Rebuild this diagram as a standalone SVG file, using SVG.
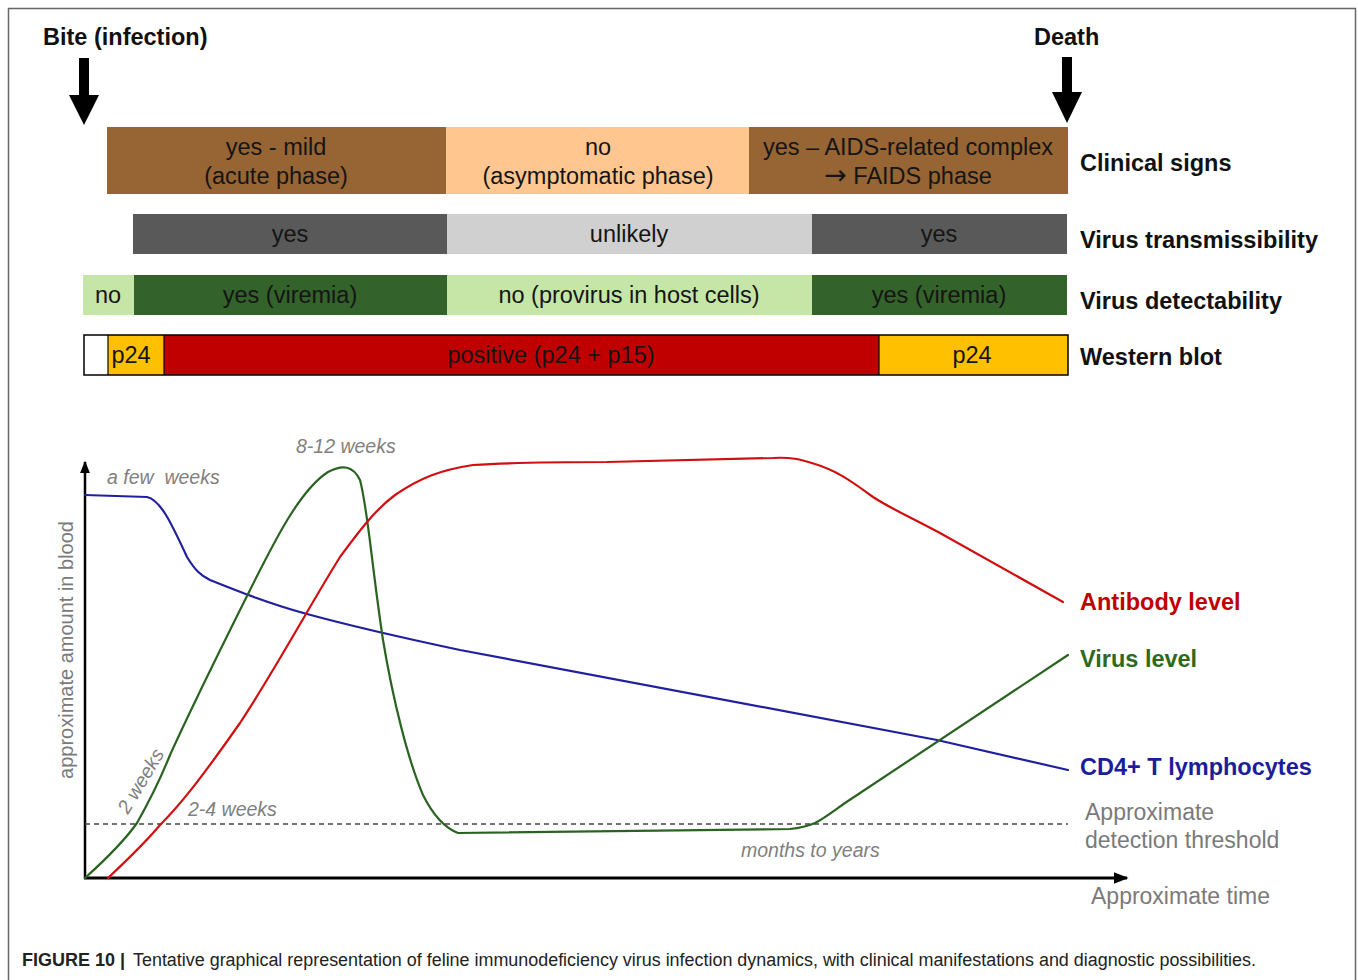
<svg xmlns="http://www.w3.org/2000/svg" width="1358" height="980" viewBox="0 0 1358 980">
<style>
.bt{font-family:"Liberation Sans",Arial,sans-serif;font-size:23.5px;fill:#151515;text-anchor:middle}
.lb{font-family:"Liberation Sans",Arial,sans-serif;font-size:23.5px;font-weight:bold;fill:#111}
.it{font-family:"Liberation Sans",Arial,sans-serif;font-size:19.5px;font-style:italic;fill:#808080}
.gr{font-family:"Liberation Sans",Arial,sans-serif;font-size:23px;fill:#7a7a7a}
.cv{fill:none;stroke-width:2.2;stroke-linejoin:round;stroke-linecap:round}
.ar{font-family:"DejaVu Sans",sans-serif;font-size:27px}
</style>
<defs>
<marker id="ah" viewBox="0 0 10 10" refX="9" refY="5" markerWidth="5" markerHeight="5" orient="auto" markerUnits="strokeWidth"><path d="M0,1 L10,5 L0,9 z" fill="#000"/></marker>
</defs>
<rect id="frame" x="8.5" y="8.5" width="1347" height="990" fill="#fff" stroke="#666" stroke-width="1.5"/>

<g id="bite">
<text class="lb" x="43" y="45">Bite (infection)</text>
<polygon points="79,58 89,58 89,95 99,95 84,125 69,95 79,95" fill="#000"/>
</g>
<g id="death">
<text class="lb" x="1034" y="45">Death</text>
<polygon points="1062,57 1072,57 1072,92 1082,92 1067,123 1052,92 1062,92" fill="#000"/>
</g>

<g id="clinical">
<rect x="107" y="127" width="339" height="67" fill="#976434"/>
<rect x="446" y="127" width="303" height="67" fill="#FFC78F"/>
<rect x="749" y="127" width="319" height="67" fill="#976434"/>
<text class="bt" x="276" y="155">yes - mild</text>
<text class="bt" x="276" y="184">(acute phase)</text>
<text class="bt" x="598" y="155">no</text>
<text class="bt" x="598" y="184">(asymptomatic phase)</text>
<text class="bt" x="908" y="155" textLength="290" lengthAdjust="spacingAndGlyphs">yes – AIDS-related complex</text>
<text class="bt" x="908" y="184"><tspan class="ar">→</tspan> FAIDS phase</text>
<text class="lb" x="1080" y="171">Clinical signs</text>
</g>

<g id="transmissibility">
<rect x="133" y="214" width="314" height="40" fill="#595959"/>
<rect x="447" y="214" width="365" height="40" fill="#D0D0D0"/>
<rect x="812" y="214" width="255" height="40" fill="#595959"/>
<text class="bt" x="290" y="242">yes</text>
<text class="bt" x="629" y="242">unlikely</text>
<text class="bt" x="939" y="242">yes</text>
<text class="lb" x="1080" y="248" textLength="238" lengthAdjust="spacingAndGlyphs">Virus transmissibility</text>
</g>

<g id="detectability">
<rect x="83" y="275" width="51" height="40" fill="#C5E6A6"/>
<rect x="134" y="275" width="313" height="40" fill="#33622A"/>
<rect x="447" y="275" width="365" height="40" fill="#C5E6A6"/>
<rect x="812" y="275" width="255" height="40" fill="#33622A"/>
<text class="bt" x="108" y="303">no</text>
<text class="bt" x="290" y="303">yes (viremia)</text>
<text class="bt" x="629" y="303">no (provirus in host cells)</text>
<text class="bt" x="939" y="303">yes (viremia)</text>
<text class="lb" x="1080" y="309">Virus detectability</text>
</g>

<g id="westernblot">
<rect x="84" y="335" width="24" height="40" fill="#fff"/>
<rect x="108" y="335" width="56" height="40" fill="#FFC000"/>
<rect x="164" y="335" width="715" height="40" fill="#C00000"/>
<rect x="879" y="335" width="189" height="40" fill="#FFC000"/>
<rect x="84" y="335" width="984" height="40" fill="none" stroke="#000" stroke-width="1.5"/>
<line x1="108" y1="335" x2="108" y2="375" stroke="#000" stroke-width="1.2"/>
<line x1="164" y1="335" x2="164" y2="375" stroke="#000" stroke-width="1.2"/>
<line x1="879" y1="335" x2="879" y2="375" stroke="#000" stroke-width="1.2"/>
<text class="bt" x="131" y="363">p24</text>
<text class="bt" x="551" y="363">positive (p24 + p15)</text>
<text class="bt" x="972" y="363">p24</text>
<text class="lb" x="1080" y="365">Western blot</text>
</g>

<g id="axes">
<line x1="85" y1="879" x2="85" y2="462" stroke="#000" stroke-width="2.5" marker-end="url(#ah)"/>
<line x1="84" y1="878" x2="1127" y2="878" stroke="#000" stroke-width="3" marker-end="url(#ah)"/>
<line x1="85" y1="824" x2="1068" y2="824" stroke="#444" stroke-width="1.5" stroke-dasharray="5,4"/>
<text class="gr" style="font-size:20px" transform="translate(73,650) rotate(-90)" text-anchor="middle">approximate amount in blood</text>
</g>

<g id="curves">
<path id="cd4" class="cv" stroke="#1F1FA0" d="M85,495 L147,497 C160,500 170,520 187,557 C195,570 200,575 210,580 C240,592 270,604 307,614 C340,623 380,633 460,650 L937,740 L1068,770"/>
<path id="virus" class="cv" stroke="#2A6321" d="M85,878 C105,860 125,840 137,823 C150,800 160,780 170,755 C195,700 225,640 250,590 C275,540 300,490 328,472 C343,464 353,466 360,480 C368,510 371,560 383,640 C393,700 408,760 423,795 C433,815 445,828 458,833 L790,829 C800,828 808,826 815,823 C825,818 835,810 845,803 L1068,655"/>
<path id="antibody" class="cv" stroke="#D01010" d="M108,878 C125,862 145,843 160,825 C180,805 200,780 240,723 C275,670 310,605 340,557 C360,530 375,510 395,495 C420,478 440,470 473,465 C520,462 560,462 607,462 L773,458 C790,457 800,459 815,464 C835,470 850,480 873,497 C890,508 900,512 940,533 L1063,602"/>
</g>

<g id="chart-labels">
<text class="it" x="107" y="484">a few&#160; weeks</text>
<text class="it" x="296" y="453">8-12 weeks</text>
<text class="it" transform="translate(128,815) rotate(-59)">2 weeks</text>
<text class="it" x="188" y="816">2-4 weeks</text>
<text class="it" x="741" y="857">months to years</text>
<text class="lb" x="1080" y="610" style="fill:#C00000">Antibody level</text>
<text class="lb" x="1080" y="667" style="fill:#2D6A1E">Virus level</text>
<text class="lb" x="1080" y="775" style="fill:#1C1C9C">CD4+ T lymphocytes</text>
<text class="gr" x="1085" y="820">Approximate</text>
<text class="gr" x="1085" y="848">detection threshold</text>
<text class="gr" x="1091" y="904">Approximate time</text>
</g>

<g id="caption">
<text x="22" y="966" style="font-family:'Liberation Sans',Arial,sans-serif;font-size:18px;fill:#222"><tspan font-weight="bold">FIGURE 10 |</tspan><tspan x="133" textLength="1123" lengthAdjust="spacingAndGlyphs">Tentative graphical representation of feline immunodeficiency virus infection dynamics, with clinical manifestations and diagnostic possibilities.</tspan></text>
</g>
</svg>
